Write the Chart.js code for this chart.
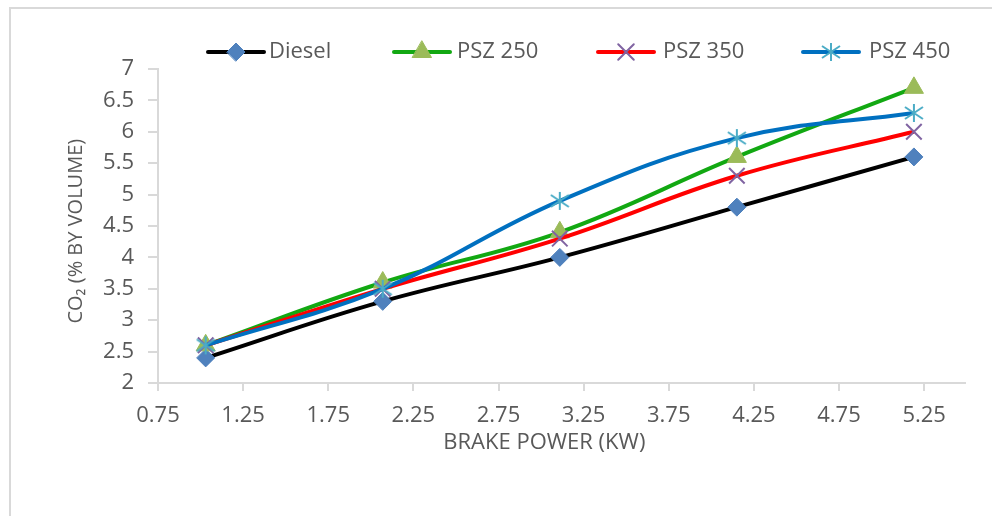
<!DOCTYPE html>
<html>
<head>
<meta charset="utf-8">
<script src="https://cdn.jsdelivr.net/npm/chart.js@4.4.1/dist/chart.umd.min.js"></script>
<style>
  html, body { margin: 0; padding: 0; background: #fff; }
  #wrap { position: relative; width: 992px; height: 516px; overflow: hidden; }
  #frame { position: absolute; left: 9px; top: 7px; width: 1200px; height: 800px; border: 2px solid #d9d9d9; }
  #c { position: absolute; left: 0; top: 0; }
</style>
</head>
<body>
<div id="wrap">
  <div id="frame"></div>
  <canvas id="c" width="992" height="516"></canvas>
</div>
<script>
// data
const brakePower = [1.03, 2.07, 3.11, 4.15, 5.19];
const diesel = [2.4, 3.3, 4.0, 4.8, 5.6];
const psz250 = [2.6, 3.6, 4.4, 5.6, 6.7];
const psz350 = [2.6, 3.5, 4.3, 5.3, 6.0];
const psz450 = [2.6, 3.5, 4.9, 5.9, 6.3];
const seriesNames = ['Diesel', 'PSZ 250', 'PSZ 350', 'PSZ 450'];
const xTickValues = [0.75, 1.25, 1.75, 2.25, 2.75, 3.25, 3.75, 4.25, 4.75, 5.25];

const FONT = "'Open Sans', 'DejaVu Sans', sans-serif";
const GREY = '#595959';
const AXIS = '#d9d9d9';

// Excel-style "star" marker: vertical bar plus an X
function makeStar(color) {
    const c = document.createElement('canvas');
    c.width = 20; c.height = 20;
    const g = c.getContext('2d');
    g.strokeStyle = color;
    g.lineWidth = 2;
    g.beginPath();
    g.moveTo(10, 1); g.lineTo(10, 19);
    g.moveTo(1, 4); g.lineTo(19, 16);
    g.moveTo(1, 16); g.lineTo(19, 4);
    g.stroke();
    return c;
}
const starMarker = makeStar('#4bacc6');

function pts(ys) {
    return brakePower.map((x, i) => ({ x: x, y: ys[i] }));
}

const datasets = [
    { label: seriesNames[0], data: pts(diesel), borderColor: '#000000', pointStyle: 'rectRot',
      pointRadius: 9, pointBackgroundColor: '#4f81bd', pointBorderColor: '#4f81bd', pointBorderWidth: 1, order: 4 },
    { label: seriesNames[1], data: pts(psz250), borderColor: '#12a812', pointStyle: 'triangle',
      pointRadius: 11, pointBackgroundColor: '#9bbb59', pointBorderColor: '#9bbb59', pointBorderWidth: 1, order: 3 },
    { label: seriesNames[2], data: pts(psz350), borderColor: '#ff0000', pointStyle: 'crossRot',
      pointRadius: 11, pointBackgroundColor: '#8064a2', pointBorderColor: '#8064a2', pointBorderWidth: 2, order: 2 },
    { label: seriesNames[3], data: pts(psz450), borderColor: '#0070c0', pointStyle: starMarker,
      pointRadius: 10, pointBackgroundColor: '#4bacc6', pointBorderColor: '#4bacc6', pointBorderWidth: 2, order: 1 }
];
datasets.forEach(d => {
    d.borderWidth = 4;
    d.tension = 0.4;
    d.fill = false;
    d.pointHoverRadius = d.pointRadius;
});

// legend drawn as Excel does it: a line segment with the marker in the middle
const legendPos = [
    { cx: 236, tx: 269 },
    { cx: 422, tx: 457 },
    { cx: 626, tx: 663 },
    { cx: 831, tx: 869 }
];
const excelLegend = {
    id: 'excelLegend',
    afterDraw(chart) {
        const ctx = chart.ctx;
        const y = 52;
        chart.data.datasets.forEach((ds, i) => {
            const p = legendPos[i];
            ctx.save();
            ctx.strokeStyle = ds.borderColor;
            ctx.lineWidth = 4;
            ctx.lineCap = 'round';
            ctx.beginPath();
            ctx.moveTo(p.cx - 28, y);
            ctx.lineTo(p.cx + 28, y);
            ctx.stroke();
            ctx.fillStyle = ds.pointBackgroundColor;
            ctx.strokeStyle = ds.pointBorderColor;
            ctx.lineWidth = ds.pointBorderWidth;
            Chart.helpers.drawPoint(ctx, {
                pointStyle: ds.pointStyle, radius: ds.pointRadius, rotation: 0, borderWidth: ds.pointBorderWidth
            }, p.cx, y);
            ctx.fillStyle = GREY;
            ctx.font = '22px ' + FONT;
            ctx.textBaseline = 'middle';
            ctx.textAlign = 'left';
            ctx.fillText(ds.label, p.tx, y);
            ctx.restore();
        });
    }
};

new Chart(document.getElementById('c').getContext('2d'), {
    type: 'line',
    data: { datasets: datasets },
    plugins: [excelLegend],
    options: {
        responsive: false,
        animation: false,
        layout: { padding: { left: 0, top: 69, right: 27, bottom: 0 } },
        plugins: { legend: { display: false }, tooltip: { enabled: false } },
        scales: {
            x: {
                type: 'linear',
                min: 0.75,
                max: 5.49,
                afterBuildTicks: axis => { axis.ticks = xTickValues.map(v => ({ value: v })); },
                afterFit: axis => { axis.height = 133; },
                grid: { drawOnChartArea: false, drawTicks: true, tickLength: 8, color: AXIS, lineWidth: 2 },
                border: { color: AXIS, width: 2 },
                ticks: { color: GREY, font: { family: FONT, size: 22 }, padding: 12, maxRotation: 0, autoSkip: false,
                         callback: v => v.toFixed(2) },
                // trailing spaces nudge the title left, as in the reference
                title: { display: true, text: 'BRAKE POWER (KW)      ', color: GREY, font: { family: FONT, size: 22 },
                         padding: { top: 0, bottom: 60 } }
            },
            y: {
                min: 2,
                max: 7,
                afterFit: axis => { axis.width = 158; },
                grid: { drawOnChartArea: false, drawTicks: true, tickLength: 10, color: AXIS, lineWidth: 2 },
                border: { color: AXIS, width: 2 },
                ticks: { stepSize: 0.5, color: GREY, font: { family: FONT, size: 22 }, padding: 14,
                         callback: v => String(v) },
                title: { display: true, text: 'CO₂ (% BY VOLUME)  ', color: GREY, font: { family: FONT, size: 20 },
                         padding: { top: 64, bottom: 0 } }
            }
        }
    }
});
</script>
</body>
</html>
